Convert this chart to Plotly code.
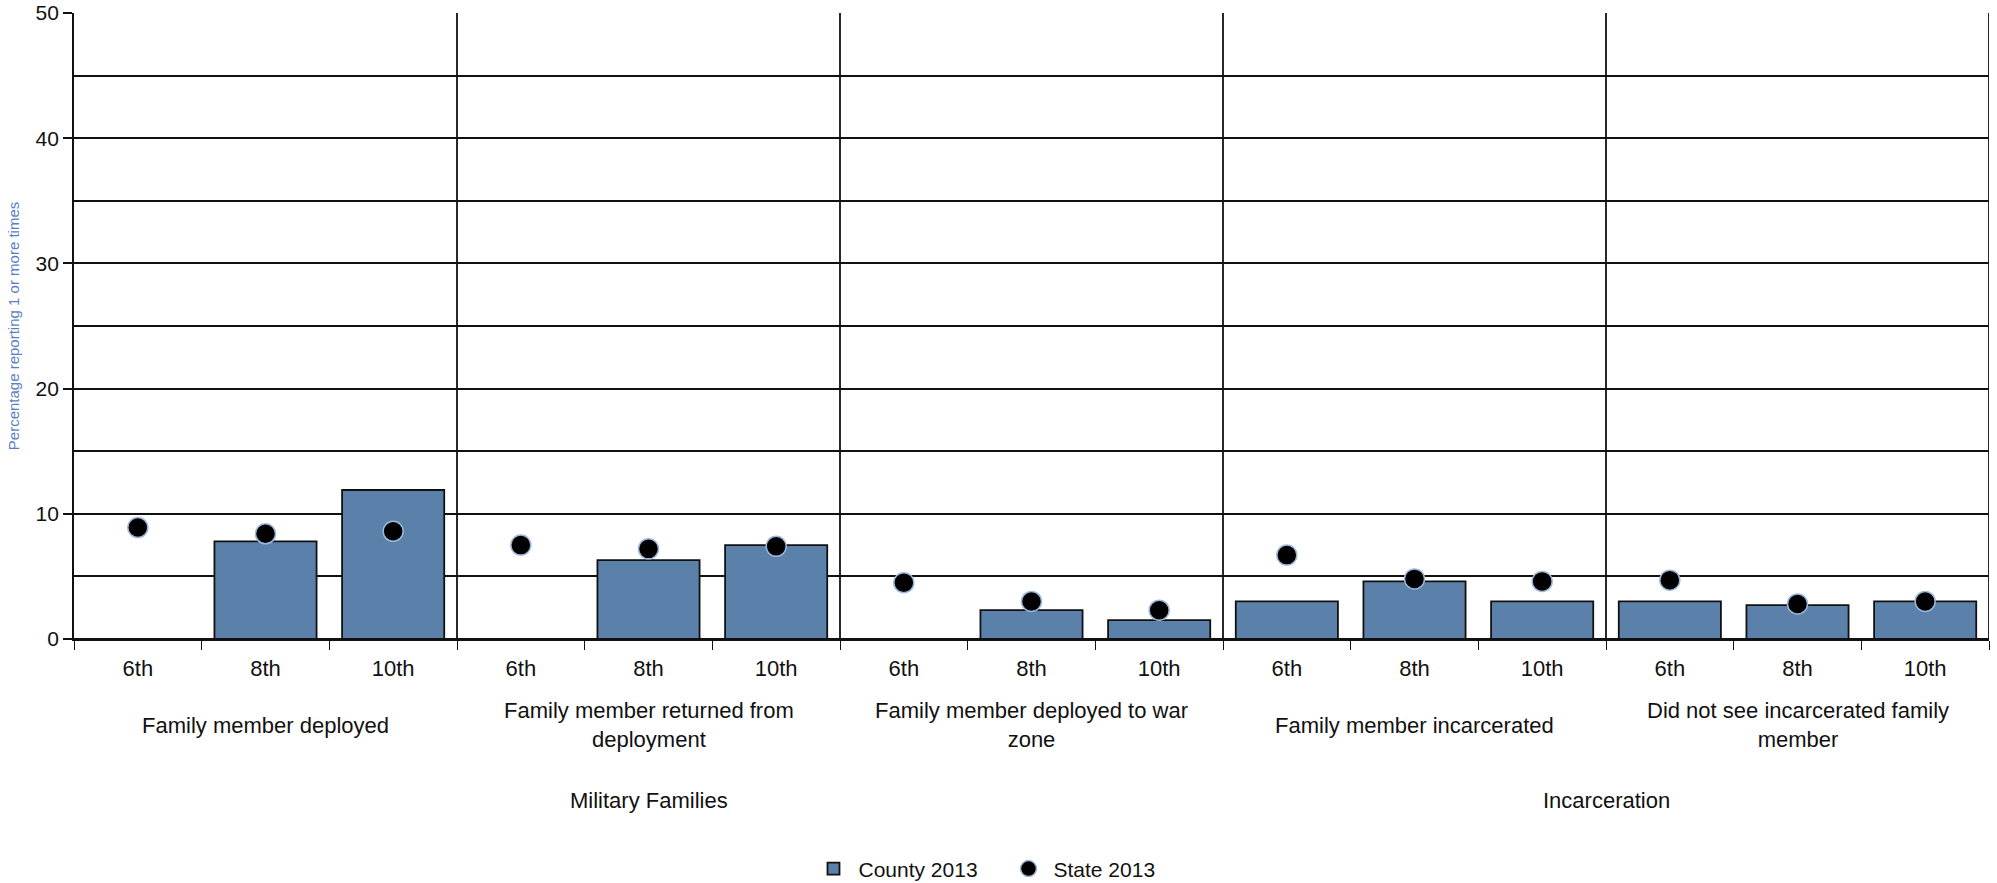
import plotly.graph_objects as go

grades = ["6th", "8th", "10th"]
subcategories = [
    "Family member deployed",
    "Family member returned from<br>deployment",
    "Family member deployed to war<br>zone",
    "Family member incarcerated",
    "Did not see incarcerated family<br>member",
]
groups = ["Military Families", "Incarceration"]
group_sizes = [3, 2]  # number of subcategories per group

county_2013 = [None, 7.8, 11.9, None, 6.3, 7.5, None, 2.3, 1.5, 3.0, 4.6, 3.0, 3.0, 2.7, 3.0]
state_2013 = [8.9, 8.4, 8.6, 7.5, 7.2, 7.4, 4.5, 3.0, 2.3, 6.7, 4.8, 4.6, 4.7, 2.8, 3.0]

n_g = len(grades)
n = n_g * len(subcategories)
xs = list(range(n))
tick_text = grades * len(subcategories)

LABEL_FONT = dict(family="Liberation Sans, Arial, sans-serif", size=22, color="#111111")
NARROW = "Liberation Sans Narrow, Arial Narrow, Liberation Sans, sans-serif"

fig = go.Figure()
fig.add_trace(go.Bar(
    x=xs, y=county_2013, name="County 2013",
    marker=dict(color="#5B80A9", line=dict(color="#111111", width=1.8)),
    width=0.8,
))
fig.add_trace(go.Scatter(
    x=xs, y=state_2013, name="State 2013", mode="markers",
    marker=dict(color="#000000", size=20, line=dict(color="#9DB8DA", width=1.5)),
))

shapes = []
for k in range(1, len(subcategories) + 1):
    xb = k * n_g - 0.5
    shapes.append(dict(type="line", xref="x", yref="paper", x0=xb, x1=xb, y0=0, y1=1,
                       line=dict(color="#111111", width=1.8), layer="above"))

annotations = []
for i, s in enumerate(subcategories):
    annotations.append(dict(x=i * n_g + (n_g - 1) / 2, y=0, xref="x", yref="paper",
                            text=s, showarrow=False, yanchor="middle", yshift=-86,
                            font=LABEL_FONT))
start = 0
for g, size in zip(groups, group_sizes):
    center = (start * n_g + (start + size) * n_g - 1) / 2
    annotations.append(dict(x=center, y=0, xref="x", yref="paper", text=g,
                            showarrow=False, yanchor="middle", yshift=-161,
                            font=LABEL_FONT))
    start += size

fig.update_layout(
    width=1997, height=883,
    margin=dict(l=74, r=8, t=13, b=244, autoexpand=False),
    plot_bgcolor="white", paper_bgcolor="white",
    bargap=0.2,
    showlegend=True,
    legend=dict(orientation="h", xref="container", x=0.5025, xanchor="center",
                yref="container", y=0.0159, yanchor="middle",
                font=dict(family=NARROW, size=21, color="#111111"),
                itemwidth=40, tracegroupgap=0, entrywidth=140),
    shapes=shapes,
    annotations=annotations,
    xaxis=dict(
        range=[-0.5, n - 0.5], tickmode="array", tickvals=xs, ticktext=tick_text,
        ticks="", showgrid=False, zeroline=False, automargin=False,
        showline=True, linecolor="#111111", linewidth=1.8,
        tickfont=LABEL_FONT, ticklabelstandoff=9,
        minor=dict(tickmode="linear", tick0=-0.5, dtick=1, ticks="outside",
                   ticklen=9, tickcolor="#111111", tickwidth=1.3, showgrid=False),
    ),
    yaxis=dict(
        range=[0, 50], tickmode="linear", tick0=0, dtick=10, automargin=False,
        ticks="outside", ticklen=9, tickcolor="#111111", tickwidth=1.8,
        showgrid=True, gridcolor="#111111", gridwidth=1.8,
        zeroline=True, zerolinecolor="#111111", zerolinewidth=1.8,
        showline=True, linecolor="#111111", linewidth=1.8,
        tickfont=dict(family="Liberation Sans, Arial, sans-serif", size=21, color="#111111"),
        minor=dict(tickmode="linear", tick0=0, dtick=5, showgrid=True,
                   gridcolor="#111111", gridwidth=1.8),
        title=dict(text="Percentage reporting 1 or more times",
                   font=dict(family=NARROW, size=15, color="#5B7FC6"), standoff=12),
    ),
)

fig.write_html("out.html", config={"displayModeBar": False},
               post_script="document.body.style.margin='0px';document.body.style.overflow='hidden';")
